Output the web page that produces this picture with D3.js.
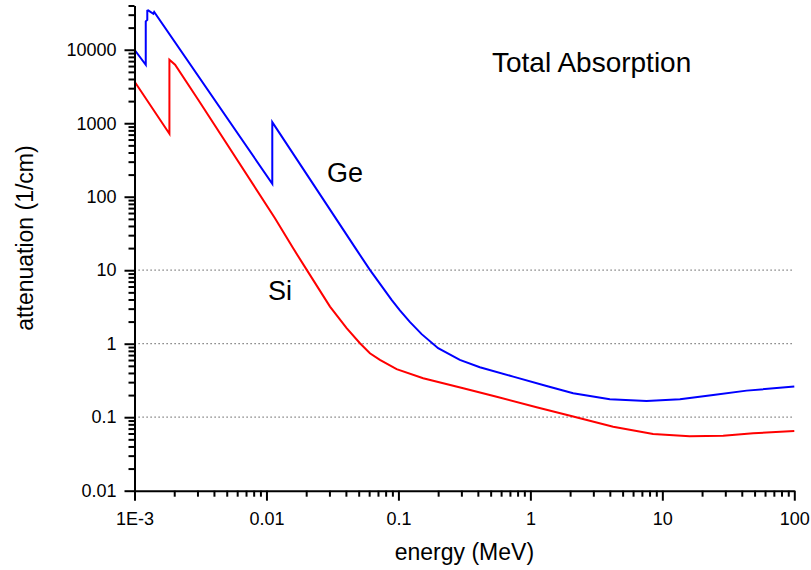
<!DOCTYPE html>
<html>
<head>
<meta charset="utf-8">
<script src="https://cdn.jsdelivr.net/npm/d3@7"></script>
<style>
  body { margin: 0; background: #fff; }
  text { font-family: "Liberation Sans", Arial, sans-serif; fill: #000; }
</style>
</head>
<body>
<svg id="mainSVG"></svg>
<script>
// Ge curve (blue), energy in MeV, attenuation in 1/cm
var energyGe = [0.001, 0.001217, 0.001217, 0.00125, 0.00125, 0.00127, 0.00139, 0.00141, 0.01107, 0.01107,
    0.0482, 0.0608, 0.0888, 0.1026, 0.122, 0.150, 0.200, 0.292, 0.414, 0.741,
    1.327, 2.11, 4.0, 7.59, 13.6, 24.3, 43.5, 100];
var attenGe = [10000, 6250, 24300, 25500, 34000, 34300, 30900, 32600, 150, 1037,
    18.9, 10.1, 3.95, 2.85, 1.98, 1.35, 0.868, 0.602, 0.479, 0.357,
    0.266, 0.212, 0.175, 0.166, 0.175, 0.201, 0.230, 0.261];

// Si curve (red)
var energySi = [0.001, 0.001839, 0.001839, 0.00203, 0.00304, 0.0116, 0.0159, 0.0202, 0.0303, 0.0405,
    0.0511, 0.0608, 0.0724, 0.0969, 0.154, 0.310, 0.555, 1.114, 2.11, 4.24,
    8.51, 16.1, 28.9, 48.8, 100];
var attenSi = [3700, 718, 7310, 6250, 2085, 51.1, 20.0, 10.1, 3.2, 1.63,
    1.016, 0.742, 0.602, 0.450, 0.339, 0.248, 0.190, 0.137, 0.102, 0.0743,
    0.0592, 0.0551, 0.0561, 0.0604, 0.065];

// ticks
var xMajor = [0.001, 0.01, 0.1, 1, 10, 100];
var xLabels = ["1E-3", "0.01", "0.1", "1", "10", "100"];
var yMajor = [0.01, 0.1, 1, 10, 100, 1000, 10000];
var yLabels = ["0.01", "0.1", "1", "10", "100", "1000", "10000"];
var gridValues = [0.1, 1, 10];

var width = 811, height = 570;
var margin = { top: 5.5, right: 16.7, bottom: 79.3, left: 134.5 };
var w = width - margin.left - margin.right;
var h = height - margin.top - margin.bottom;

var svg = d3.select("#mainSVG").attr("width", width).attr("height", height);
var g = svg.append("g").attr("transform", "translate(" + margin.left + "," + margin.top + ")");

var x = d3.scaleLog().domain([0.001, 100]).range([0, w]);
var y = d3.scaleLog().domain([0.01, 40000]).range([h, 0]);

// minor ticks 2..9 in each decade
function minors(lo, hi) {
    var out = [];
    for (var p = Math.log10(lo); p < Math.log10(hi); p++) {
        for (var k = 2; k <= 9; k++) {
            var v = k * Math.pow(10, p);
            if (v <= hi) out.push(v);
        }
    }
    return out;
}

// dotted grid lines
g.append("g")
    .selectAll("line")
    .data(gridValues)
    .enter()
    .append("line")
    .attr("x1", 0)
    .attr("x2", w)
    .attr("y1", function(d) { return y(d); })
    .attr("y2", function(d) { return y(d); })
    .attr("stroke", "#606060")
    .attr("stroke-width", 1.2)
    .attr("stroke-dasharray", "1.2,2.8");

// lines
var line = d3.line()
    .x(function(d) { return x(d[0]); })
    .y(function(d) { return y(d[1]); });

g.append("path")
    .datum(d3.zip(energySi, attenSi))
    .attr("d", line)
    .attr("fill", "none")
    .attr("stroke", "#ff0000")
    .attr("stroke-width", 2);

g.append("path")
    .datum(d3.zip(energyGe, attenGe))
    .attr("d", line)
    .attr("fill", "none")
    .attr("stroke", "#0000ff")
    .attr("stroke-width", 2);

// x axis
g.append("g")
    .attr("transform", "translate(0," + h + ")")
    .call(d3.axisBottom(x).tickValues(minors(0.001, 100)).tickSize(6).tickFormat(""))
    .call(function(a) { a.select(".domain").remove(); a.selectAll("line").attr("stroke-width", 2); });

var xAxis = g.append("g")
    .attr("transform", "translate(0," + h + ")")
    .call(d3.axisBottom(x).tickValues(xMajor).tickSize(10).tickSizeOuter(0).tickPadding(12)
        .tickFormat(function(d, i) { return xLabels[i]; }));
xAxis.select(".domain").attr("stroke-width", 2);
xAxis.selectAll("line").attr("stroke-width", 2);
xAxis.selectAll("text").style("font-size", "18px").attr("font-family", null);

// y axis
g.append("g")
    .call(d3.axisLeft(y).tickValues(minors(0.01, 40000)).tickSize(6).tickFormat(""))
    .call(function(a) { a.select(".domain").remove(); a.selectAll("line").attr("stroke-width", 2); });

var yAxis = g.append("g")
    .call(d3.axisLeft(y).tickValues(yMajor).tickSize(10).tickSizeOuter(0).tickPadding(8)
        .tickFormat(function(d, i) { return yLabels[i]; }));
yAxis.select(".domain").attr("stroke-width", 2);
yAxis.selectAll("line").attr("stroke-width", 2);
yAxis.selectAll("text").style("font-size", "18px").attr("font-family", null);

// axis titles
svg.append("text")
    .attr("x", margin.left + w / 2)
    .attr("y", 560)
    .style("text-anchor", "middle")
    .style("font-size", "23px")
    .text("energy (MeV)");

svg.append("text")
    .attr("transform", "translate(33,238) rotate(-90)")
    .style("text-anchor", "middle")
    .style("font-size", "23px")
    .text("attenuation (1/cm)");

// annotations
svg.append("text").attr("x", 492).attr("y", 72).style("font-size", "28px").text("Total Absorption");
svg.append("text").attr("x", 327).attr("y", 182).style("font-size", "27px").text("Ge");
svg.append("text").attr("x", 268).attr("y", 300).style("font-size", "27px").text("Si");
</script>
</body>
</html>
